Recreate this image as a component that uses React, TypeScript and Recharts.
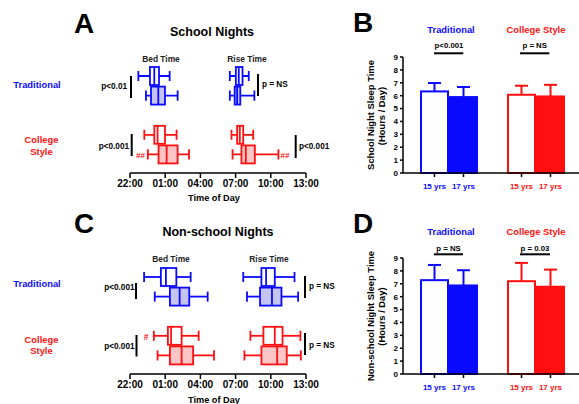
import React from 'react';
import { ComposedChart, BarChart, Bar, XAxis, YAxis } from 'recharts';

const FONT = '"Liberation Sans", Arial, Helvetica, sans-serif';
const BLUE = '#0a0aff';
const RED = '#ff0f0f';
const BLUE_FILL = '#c4c4f6';
const RED_FILL = '#fcc6c6';

// rows of every panel; the "gap" row keeps the two school types apart
const rowKeys = ['T15', 'T17', 'gap', 'C15', 'C17'];
const rowLabels = ['15 yrs', '17 yrs', '', '15 yrs', '17 yrs'];

// box plots: [min, q1, median, q3, max], hours after 22:00
const schoolBed = [
  [0.71, 1.7, 2.07, 2.47, 3.38],
  [1.36, 1.79, 2.41, 2.98, 4.06],
  null,
  [1.22, 2.07, 2.35, 2.98, 3.97],
  [1.52, 2.43, 3.12, 4.06, 5.03],
];
const schoolRise = [
  [8.51, 9.02, 9.27, 9.59, 10.12],
  [8.51, 8.92, 9.13, 9.4, 10.6],
  null,
  [8.65, 9.13, 9.36, 9.65, 10.5],
  [8.74, 9.5, 9.87, 10.64, 12.65],
];
const nonSchoolBed = [
  [1.2, 2.63, 3.06, 3.95, 5.17],
  [2.11, 3.4, 4.23, 5.05, 6.62],
  null,
  [2.03, 3.23, 3.5, 4.4, 5.85],
  [2.35, 3.4, 4.4, 5.38, 7.16],
];
const nonSchoolRise = [
  [9.65, 11.2, 11.6, 12.34, 14.02],
  [9.97, 11.08, 12.1, 12.91, 14.33],
  null,
  [10.26, 11.37, 12.34, 13.0, 14.52],
  [9.75, 11.2, 12.54, 13.36, 14.56],
];

const timeTicks = [0, 3, 6, 9, 12, 15];
const timeLabels = ['22:00', '01:00', '04:00', '07:00', '10:00', '13:00'];

// sleep time (hours / day): mean and SD
const schoolSleep = [6.33, 5.89, null, 6.07, 5.94];
const schoolSleepSd = [0.65, 0.78, null, 0.7, 0.9];
const nonSchoolSleep = [7.28, 6.87, null, 7.2, 6.77];
const nonSchoolSleepSd = [1.18, 1.18, null, 1.42, 1.33];
const sleepTicks = [0, 1, 2, 3, 4, 5, 6, 7, 8, 9];

const boxData = (bed: any[], rise: any[]) =>
  rowKeys.map((key, i) => ({
    key,
    bed: bed[i],
    rise: rise[i],
    span: bed[i] ? [bed[i][0], rise[i][4]] : null,
  }));

const sleepData = (mean: any[], sd: any[]) =>
  rowKeys.map((key, i) => ({ key, mean: mean[i], sd: sd[i] }));

const colorOf = (key: string) => (key[0] === 'T' ? BLUE : RED);

const BoxShape = (props: any) => {
  const { x, y, width, height, payload } = props;
  if (!payload || !payload.bed) return null;
  const [lo, hi] = payload.span;
  const px = (v: number) => x + ((v - lo) / (hi - lo)) * width;
  const color = colorOf(payload.key);
  const fill = payload.key.endsWith('17') ? (payload.key[0] === 'T' ? BLUE_FILL : RED_FILL) : '#fff';
  const cy = y + height / 2;
  const cap = height * 0.28;
  const one = (s: number[], k: string) => {
    const [mn, q1, md, q3, mx] = s.map(px);
    return (
      <g key={k}>
        <line x1={mn} x2={q1} y1={cy} y2={cy} />
        <line x1={q3} x2={mx} y1={cy} y2={cy} />
        <line x1={mn} x2={mn} y1={cy - cap} y2={cy + cap} />
        <line x1={mx} x2={mx} y1={cy - cap} y2={cy + cap} />
        <rect x={q1} y={y} width={q3 - q1} height={height} fill={fill} />
        <line x1={md} x2={md} y1={y} y2={y + height} />
      </g>
    );
  };
  return (
    <g stroke={color} strokeWidth={1.8} fill="none">
      {one(payload.bed, 'bed')}
      {one(payload.rise, 'rise')}
    </g>
  );
};

const RowTick = (props: any) => {
  const { y, payload } = props;
  const i = rowKeys.indexOf(payload.value);
  return (
    <text x={96} y={y + 3} textAnchor="end" fill={colorOf(payload.value)} fontSize={8} fontWeight="bold" fontFamily={FONT}>
      {rowLabels[i]}
    </text>
  );
};

const BoxPanel = ({ data }: { data: any[] }) => (
  <ComposedChart
    layout="vertical"
    width={320}
    height={200}
    data={data}
    margin={{ top: 66, right: 14, bottom: 0, left: 130 }}
    barCategoryGap={0}
  >
    <XAxis
      type="number"
      domain={[0, 15]}
      ticks={timeTicks}
      allowDataOverflow
      tickFormatter={(v: number) => timeLabels[timeTicks.indexOf(v)]}
      height={27}
      axisLine={{ stroke: '#000', strokeWidth: 1.5 }}
      tickLine={{ stroke: '#000', strokeWidth: 1.5 }}
      tickSize={5}
      tick={{ fontSize: 10, fontWeight: 'bold', fill: '#000', fontFamily: FONT }}
    />
    <YAxis
      type="category"
      dataKey="key"
      width={0}
      padding={{ top: 0, bottom: 9 }}
      axisLine={false}
      tickLine={false}
      interval={0}
      tick={<RowTick />}
    />
    <Bar dataKey="span" barSize={18} shape={<BoxShape />} isAnimationActive={false} />
  </ComposedChart>
);

const SleepBar = (props: any) => {
  const { x, y, width, height, payload } = props;
  if (!payload || payload.mean == null) return null;
  const color = colorOf(payload.key);
  const filled = payload.key.endsWith('17');
  const perUnit = height / payload.mean;
  const cx = x + width / 2;
  const top = y - payload.sd * perUnit;
  return (
    <g>
      <line x1={cx} x2={cx} y1={y} y2={top} stroke={color} strokeWidth={2} />
      <line x1={cx - 6.5} x2={cx + 6.5} y1={top} y2={top} stroke={color} strokeWidth={2} />
      <rect x={x + 1} y={y} width={width - 2} height={height} fill={filled ? color : '#fff'} stroke={color} strokeWidth={2} />
    </g>
  );
};

const GroupTick = (props: any) => {
  const { x, y, payload } = props;
  const i = rowKeys.indexOf(payload.value);
  if (!rowLabels[i]) return null;
  const axisY = y - 7;
  return (
    <g>
      <line x1={x} x2={x} y1={axisY} y2={axisY + 4} stroke="#000" strokeWidth={1.5} />
      <text x={x} y={y + 9} textAnchor="middle" fill={colorOf(payload.value)} fontSize={8} fontWeight="bold" fontFamily={FONT}>
        {rowLabels[i]}
      </text>
    </g>
  );
};

const SleepPanel = ({ data }: { data: any[] }) => (
  <BarChart width={259} height={200} data={data} margin={{ top: 57, right: 0, bottom: 0, left: 0 }} barCategoryGap={0}>
    <XAxis
      dataKey="key"
      padding={{ left: 17, right: 14 }}
      height={27}
      axisLine={{ stroke: '#000', strokeWidth: 1.5 }}
      tickLine={false}
      tickSize={4}
      tickMargin={3}
      interval={0}
      tick={<GroupTick />}
    />
    <YAxis
      domain={[0, 9]}
      ticks={sleepTicks}
      interval={0}
      width={83}
      axisLine={{ stroke: '#000', strokeWidth: 1.5 }}
      tickLine={{ stroke: '#000', strokeWidth: 1.5 }}
      tickSize={3}
      tickMargin={2}
      tick={{ fontSize: 8, fontWeight: 'bold', fill: '#000', fontFamily: FONT }}
    />
    <Bar dataKey="mean" shape={<SleepBar />} isAnimationActive={false} />
  </BarChart>
);

const T = (p: any) => (
  <text fontFamily={FONT} fontWeight="bold" fill="#000" {...p} />
);

const VLine = ({ x, y1, y2 }: any) => <line x1={x} x2={x} y1={y1} y2={y2} stroke="#000" strokeWidth={2} />;
const HLine = ({ y, x1, x2 }: any) => <line x1={x1} x2={x2} y1={y} y2={y} stroke="#000" strokeWidth={2} />;

const Overlay = () => (
  <svg width={579} height={404} style={{ position: 'absolute', left: 0, top: 0, pointerEvents: 'none' }}>
    {/* panel A */}
    <T x={74} y={33} fontSize={28}>A</T>
    <T x={212} y={36} fontSize={12.5} textAnchor="middle">School Nights</T>
    <T x={161} y={61.5} fontSize={8.4} textAnchor="middle" fill="#222">Bed Time</T>
    <T x={247} y={61.5} fontSize={8.4} textAnchor="middle" fill="#222">Rise Time</T>
    <T x={37} y={87.5} fontSize={9.4} textAnchor="middle" fill={BLUE}>Traditional</T>
    <T x={41.5} y={142.5} fontSize={9.4} textAnchor="middle" fill={RED}>College</T>
    <T x={41.5} y={154.5} fontSize={9.4} textAnchor="middle" fill={RED}>Style</T>
    <T x={127} y={89} fontSize={8.2} textAnchor="end">p&lt;0.01</T>
    <VLine x={131} y1={76} y2={98} />
    <VLine x={258} y1={74} y2={96} />
    <T x={262} y={87} fontSize={8.2}>p = NS</T>
    <T x={129} y={149} fontSize={8.2} textAnchor="end">p&lt;0.001</T>
    <VLine x={131.7} y1={134} y2={156} />
    <T x={136} y={157.5} fontSize={8} fill={RED}>##</T>
    <T x={280.5} y={157.5} fontSize={8} fill={RED}>##</T>
    <VLine x={295.7} y1={135} y2={158} />
    <T x={299} y={149} fontSize={8.2}>p&lt;0.001</T>
    <T x={214} y={201} fontSize={9.2} textAnchor="middle">Time of Day</T>

    {/* panel C */}
    <T x={74} y={233} fontSize={28}>C</T>
    <T x={218} y={236} fontSize={12.5} textAnchor="middle">Non-school Nights</T>
    <T x={171} y={262} fontSize={8.4} textAnchor="middle" fill="#222">Bed Time</T>
    <T x={269} y={262} fontSize={8.4} textAnchor="middle" fill="#222">Rise Time</T>
    <T x={37} y={286.5} fontSize={9.4} textAnchor="middle" fill={BLUE}>Traditional</T>
    <T x={41.5} y={342.5} fontSize={9.4} textAnchor="middle" fill={RED}>College</T>
    <T x={41.5} y={353.5} fontSize={9.4} textAnchor="middle" fill={RED}>Style</T>
    <T x={134.5} y={290} fontSize={8.2} textAnchor="end">p&lt;0.001</T>
    <VLine x={136} y1={283} y2={299} />
    <T x={134.5} y={349} fontSize={8.2} textAnchor="end">p&lt;0.001</T>
    <VLine x={136.5} y1={335} y2={356.5} />
    <T x={146} y={339.5} fontSize={8.5} textAnchor="middle" fill={RED}>#</T>
    <VLine x={305} y1={276} y2={298} />
    <T x={309} y={288.5} fontSize={8.2}>p = NS</T>
    <VLine x={305} y1={333} y2={355} />
    <T x={309} y={347.5} fontSize={8.2}>p = NS</T>
    <T x={214} y={403} fontSize={9.2} textAnchor="middle">Time of Day</T>

    {/* panel B */}
    <T x={353} y={32} fontSize={28}>B</T>
    <T x={451} y={33} fontSize={9.4} textAnchor="middle" fill={BLUE}>Traditional</T>
    <T x={536} y={33} fontSize={9.4} textAnchor="middle" fill={RED}>College Style</T>
    <T x={449} y={48.3} fontSize={7.8} textAnchor="middle">p&lt;0.001</T>
    <HLine y={53.3} x1={434} x2={463.3} />
    <T x={534.7} y={48.3} fontSize={7.8} textAnchor="middle">p = NS</T>
    <HLine y={53.3} x1={520} x2={549.3} />
    <g transform="translate(370,115) rotate(-90)">
      <T x={0} y={0} fontSize={9.4} textAnchor="middle" dominantBaseline="central">School Night Sleep Time</T>
    </g>
    <g transform="translate(381,116) rotate(-90)">
      <T x={0} y={0} fontSize={9.4} textAnchor="middle" dominantBaseline="central">(Hours / Day)</T>
    </g>

    {/* panel D */}
    <T x={353} y={233} fontSize={28}>D</T>
    <T x={451} y={234.5} fontSize={9.4} textAnchor="middle" fill={BLUE}>Traditional</T>
    <T x={536} y={234.5} fontSize={9.4} textAnchor="middle" fill={RED}>College Style</T>
    <T x={448.5} y={250.5} fontSize={7.8} textAnchor="middle">p = NS</T>
    <HLine y={254.3} x1={434} x2={463} />
    <T x={535} y={250.5} fontSize={7.8} textAnchor="middle">p = 0.03</T>
    <HLine y={254.3} x1={520} x2={550} />
    <g transform="translate(370,316) rotate(-90)">
      <T x={0} y={0} fontSize={9.4} textAnchor="middle" dominantBaseline="central">Non-school Night Sleep Time</T>
    </g>
    <g transform="translate(381,316.5) rotate(-90)">
      <T x={0} y={0} fontSize={9.4} textAnchor="middle" dominantBaseline="central">(Hours / Day)</T>
    </g>
  </svg>
);

export default function App() {
  return (
    <div style={{ position: 'absolute', left: 0, top: 0, width: 579, height: 404, background: '#fff', fontFamily: FONT }}>
      <div style={{ position: 'absolute', left: 0, top: 0 }}>
        <BoxPanel data={boxData(schoolBed, schoolRise)} />
      </div>
      <div style={{ position: 'absolute', left: 0, top: 201 }}>
        <BoxPanel data={boxData(nonSchoolBed, nonSchoolRise)} />
      </div>
      <div style={{ position: 'absolute', left: 320, top: 0 }}>
        <SleepPanel data={sleepData(schoolSleep, schoolSleepSd)} />
      </div>
      <div style={{ position: 'absolute', left: 320, top: 201 }}>
        <SleepPanel data={sleepData(nonSchoolSleep, nonSchoolSleepSd)} />
      </div>
      <Overlay />
    </div>
  );
}
